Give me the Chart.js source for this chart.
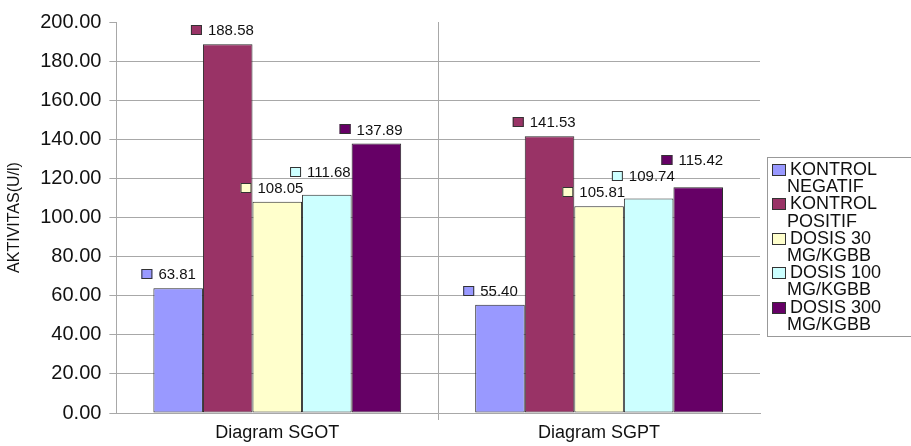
<!DOCTYPE html>
<html>
<head>
<meta charset="utf-8">
<script src="https://cdn.jsdelivr.net/npm/chart.js@4.4.1/dist/chart.umd.min.js"></script>
<style>
	body { margin: 0; background: #fff; }
	#wrap { position: relative; width: 911px; height: 446px; }
	#legend {
		position: absolute; left: 767px; top: 157px; width: 150px;
		border: 1px solid #999; padding: 3px 0 3px 4px;
		font: 18px 'Liberation Sans', Arial, sans-serif; line-height: 17.2px; color: #111;
	}
	#legend .item { position: relative; padding-left: 15px; text-indent: 3px; }
	#legend .sw { position: absolute; left: 0; top: 3px; width: 12px; height: 10px; border: 1px solid #333; }
</style>
</head>
<body>
<div id="wrap">
	<canvas id="mycanvas" width="911" height="446"></canvas>
	<div id="legend"></div>
</div>
<script>
var categories = ["Diagram SGOT", "Diagram SGPT"];
var seriesNames = [["KONTROL", "NEGATIF"], ["KONTROL", "POSITIF"], ["DOSIS 30", "MG/KGBB"], ["DOSIS 100", "MG/KGBB"], ["DOSIS 300", "MG/KGBB"]];
var kontrolNegatif = [63.81, 55.40];
var kontrolPositif = [188.58, 141.53];
var dosis30 = [108.05, 105.81];
var dosis100 = [111.68, 109.74];
var dosis300 = [137.89, 115.42];
var yTicks = [0, 20, 40, 60, 80, 100, 120, 140, 160, 180, 200];
var colors = ["#9999ff", "#993366", "#ffffcc", "#ccffff", "#660066"];

var values = [kontrolNegatif, kontrolPositif, dosis30, dosis100, dosis300];
var datasets = [];
for (var i in values) {
	datasets.push({
		label: seriesNames[i].join(" "),
		data: values[i],
		backgroundColor: colors[i],
		borderColor: "#2a2a2a",
		borderWidth: 1,
		borderSkipped: false,
		categoryPercentage: 0.77,
		barPercentage: 1
	});
}

// value label with a small colour square, lifted up when it would hit the previous one
var valueLabels = {
	id: "valueLabels",
	afterDatasetsDraw: function(chart) {
		var ctx = chart.ctx;
		ctx.save();
		ctx.font = "15px 'Liberation Sans', Arial, sans-serif";
		ctx.textBaseline = "middle";
		var placed = [];
		chart.data.datasets.forEach(function(ds, di) {
			chart.getDatasetMeta(di).data.forEach(function(bar, j) {
				var text = ds.data[j].toFixed(2);
				var left = bar.x - bar.width / 2;
				var w = ctx.measureText(text).width;
				var h = 14;
				var x0 = left - 12, x1 = left + 5 + w;
				var cy = bar.y - 14;
				var moved = true;
				while (moved) {
					moved = false;
					placed.forEach(function(r) {
						if (x0 < r.x1 && x1 > r.x0 && cy - h / 2 < r.y1 && cy + h / 2 > r.y0) {
							cy = r.y0 - 2 - h / 2;
							moved = true;
						}
					});
				}
				placed.push({x0: x0, x1: x1, y0: cy - h / 2, y1: cy + h / 2});
				ctx.fillStyle = ds.backgroundColor;
				ctx.fillRect(left - 12, Math.round(cy) - 5, 11, 10);
				ctx.strokeStyle = "#333";
				ctx.lineWidth = 1;
				ctx.strokeRect(left - 11.5, Math.round(cy) - 4.5, 10, 9);
				ctx.fillStyle = "#111";
				ctx.fillText(text, left + 5, cy + 1);
			});
		});
		ctx.restore();
	}
};

Chart.defaults.font.family = "'Liberation Sans', Arial, sans-serif";
Chart.defaults.color = "#111";

var ctx = document.getElementById("mycanvas");
var BarGraph = new Chart(ctx, {
	type: "bar",
	data: { labels: categories, datasets: datasets },
	options: {
		responsive: false,
		animation: false,
		layout: { padding: { top: 22, right: 151, bottom: 0, left: 3 } },
		plugins: {
			legend: { display: false },
			tooltip: { enabled: false }
		},
		scales: {
			x: {
				grid: {
					offset: true,
					tickLength: 7,
					color: function(c) { return c.index === 1 ? "#a8a8a8" : "rgba(0,0,0,0)"; },
					tickColor: function(c) { return c.index === 1 ? "#a8a8a8" : "rgba(0,0,0,0)"; }
				},
				border: { color: "#a8a8a8" },
				ticks: { font: { size: 18, lineHeight: 1 }, padding: 4, color: "#111" }
			},
			y: {
				min: 0,
				max: 200,
				afterBuildTicks: function(scale) {
					scale.ticks = yTicks.map(function(v) { return { value: v }; });
				},
				grid: {
					tickLength: 7,
					color: function(c) { return c.tick && c.tick.value === 200 ? "rgba(0,0,0,0)" : "#a8a8a8"; },
					tickColor: "#a8a8a8"
				},
				border: { color: "#a8a8a8" },
				ticks: {
					font: { size: 20 },
					padding: 8,
					color: "#111",
					callback: function(v) { return Number(v).toFixed(2); }
				},
				title: {
					display: true,
					text: "AKTIVITAS(U/l)",
					font: { size: 16 },
					padding: { top: 2, bottom: 8 },
					color: "#111"
				}
			}
		}
	},
	plugins: [valueLabels]
});

// legend with two-line labels
var legend = document.getElementById("legend");
seriesNames.forEach(function(name, i) {
	var item = document.createElement("div");
	item.className = "item";
	var sw = document.createElement("span");
	sw.className = "sw";
	sw.style.background = colors[i];
	item.appendChild(sw);
	item.appendChild(document.createTextNode(name[0]));
	item.appendChild(document.createElement("br"));
	item.appendChild(document.createTextNode(name[1]));
	legend.appendChild(item);
});
</script>
</body>
</html>
